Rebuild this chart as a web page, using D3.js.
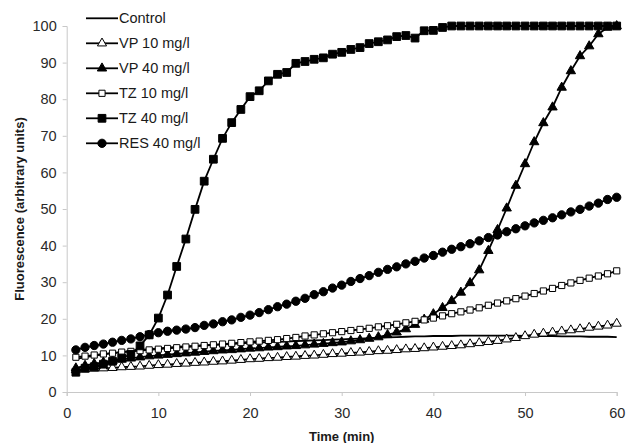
<!DOCTYPE html>
<html>
<head>
<meta charset="utf-8">
<script src="https://cdn.jsdelivr.net/npm/d3@7"></script>
<style>
  body { margin: 0; background: #fff; }
  svg { display: block; font-family: Arial, "Liberation Sans", sans-serif; }
</style>
</head>
<body>
<div class="chart"></div>
<script>
    // sampling times (min)
    var time = d3.range(1, 61);

    var xTicks = [0, 10, 20, 30, 40, 50, 60];
    var yTicks = [0, 10, 20, 30, 40, 50, 60, 70, 80, 90, 100];

    var seriesNames = ["Control", "VP 10 mg/l", "VP 40 mg/l", "TZ 10 mg/l", "TZ 40 mg/l", "RES 40 mg/l"];

    var control = [9.0, 9.5, 9.9, 10.3, 10.6, 10.9, 11.2, 11.5, 11.7, 11.9,
                   12.1, 12.3, 12.5, 12.6, 12.8, 12.9, 13.0, 13.1, 13.3, 13.4,
                   13.5, 13.6, 13.7, 13.8, 13.9, 14.0, 14.1, 14.2, 14.3, 14.4,
                   14.5, 14.6, 14.7, 14.8, 14.9, 15.0, 15.1, 15.2, 15.2, 15.3,
                   15.3, 15.3, 15.4, 15.4, 15.4, 15.4, 15.4, 15.4, 15.4, 15.3,
                   15.3, 15.3, 15.3, 15.2, 15.2, 15.2, 15.1, 15.1, 15.1, 15.0];

    var vp10 = [6.0, 6.2, 6.4, 6.5, 6.6, 6.8, 6.9, 7.0, 7.2, 7.4,
                7.5, 7.7, 7.8, 8.0, 8.1, 8.3, 8.4, 8.6, 8.8, 9.0,
                9.1, 9.3, 9.4, 9.6, 9.7, 9.9, 10.0, 10.2, 10.4, 10.5,
                10.7, 10.8, 11.0, 11.2, 11.3, 11.5, 11.7, 11.8, 12.0, 12.2,
                12.4, 12.6, 12.8, 13.1, 13.4, 13.7, 14.0, 14.4, 14.8, 15.3,
                15.7, 16.0, 16.3, 16.6, 16.9, 17.2, 17.6, 17.9, 18.2, 18.7];

    var vp40 = [6.5, 7.2, 7.7, 8.1, 8.5, 8.9, 9.2, 9.5, 9.8, 10.0,
                10.2, 10.4, 10.6, 10.8, 11.0, 11.2, 11.4, 11.5, 11.7, 11.9,
                12.0, 12.2, 12.3, 12.5, 12.6, 12.8, 13.0, 13.2, 13.4, 13.6,
                13.9, 14.2, 14.6, 15.0, 15.6, 16.3, 17.2, 18.4, 19.8, 21.3,
                23.0, 24.9, 27.2, 29.8, 33.3, 38.6, 44.3, 50.2, 56.4, 62.3,
                68.3, 73.5, 77.8, 83.2, 87.7, 91.8, 94.5, 97.8, 99.6, 100];

    var tz10 = [9.5, 9.8, 10.1, 10.4, 10.6, 10.9, 11.1, 11.3, 11.5, 11.7,
                11.9, 12.1, 12.3, 12.5, 12.7, 12.9, 13.1, 13.3, 13.5, 13.7,
                13.9, 14.1, 14.3, 14.6, 14.9, 15.3, 15.6, 15.9, 16.2, 16.5,
                16.8, 17.1, 17.4, 17.8, 18.1, 18.5, 18.9, 19.3, 19.7, 20.2,
                20.8, 21.4, 21.9, 22.4, 23.0, 23.7, 24.3, 24.9, 25.5, 26.2,
                26.9, 27.6, 28.3, 29.1, 29.8, 30.5, 31.1, 31.7, 32.3, 33.1];

    var tz40 = [5.4, 6.5, 6.9, 7.6, 8.4, 9.3, 10.3, 12.6, 15.6, 20.2,
                26.5, 34.3, 41.8, 49.9, 57.6, 63.6, 69.3, 73.6, 77.2, 80.7,
                82.3, 85.0, 86.8, 87.3, 89.8, 90.3, 90.9, 91.3, 92.3, 92.8,
                93.6, 94.1, 95.2, 95.7, 96.2, 97.1, 97.4, 96.7, 98.7, 98.8,
                99.6, 100, 100, 100, 100, 100, 100, 100, 100, 100,
                100, 100, 100, 100, 100, 100, 100, 100, 100, 100];

    var res40 = [11.5, 12.2, 12.7, 13.1, 13.6, 14.1, 14.5, 15.1, 15.7, 16.2,
                 16.6, 16.9, 17.2, 17.6, 18.2, 18.6, 19.2, 19.7, 20.4, 21.0,
                 21.7, 22.5, 23.3, 24.0, 24.8, 25.6, 26.6, 27.4, 28.4, 29.2,
                 30.2, 31.0, 31.8, 32.7, 33.5, 34.2, 35.0, 35.7, 36.6, 37.3,
                 38.2, 39.0, 39.7, 40.5, 41.3, 42.2, 42.9, 43.8, 44.6, 45.4,
                 46.2, 46.9, 47.6, 48.4, 49.2, 49.9, 50.8, 51.6, 52.6, 53.2];

    var seriesValues = [control, vp10, vp40, tz10, tz40, res40];

    // marker style per series
    var markers = [
      null,
      {type: d3.symbolTriangle, size: 36, fill: "white"},
      {type: d3.symbolTriangle, size: 38, fill: "black"},
      {type: d3.symbolSquare, size: 38, fill: "white"},
      {type: d3.symbolSquare, size: 60, fill: "black"},
      {type: d3.symbolCircle, size: 54, fill: "black"}
    ];

    var svg = d3.select(".chart")
                .append("svg")
                .attr("width", 627)
                .attr("height", 443)
                .style("background-color", "white");

    var x = d3.scaleLinear().domain([0, 60]).range([66.7, 616.7]);
    var y = d3.scaleLinear().domain([0, 100]).range([392, 26]);

    // axes
    var xAxis = svg.append("g")
                   .attr("transform", "translate(0,392)")
                   .call(d3.axisBottom(x).tickValues(xTicks).tickSize(4).tickPadding(12));
    var yAxis = svg.append("g")
                   .attr("transform", "translate(66.7,0)")
                   .call(d3.axisLeft(y).tickValues(yTicks).tickSize(4).tickPadding(6));

    [xAxis, yAxis].forEach(function(ax) {
      ax.select(".domain").attr("stroke", "#c8c8c8").attr("stroke-width", 1);
      ax.selectAll(".tick line").attr("stroke", "#c8c8c8");
      ax.selectAll(".tick text")
        .style("font-size", "14.5px")
        .style("font-family", "Arial, 'Liberation Sans', sans-serif")
        .attr("fill", "#2a2a2a");
    });

    // axis titles
    svg.append("text")
       .attr("text-anchor", "middle")
       .attr("x", 341.7)
       .attr("y", 441)
       .text("Time (min)")
       .style("font-size", "13px")
       .style("font-weight", "bold")
       .style("fill", "#1a1a1a");

    svg.append("text")
       .attr("text-anchor", "middle")
       .attr("transform", "translate(24,209) rotate(-90)")
       .text("Fluorescence (arbitrary units)")
       .style("font-size", "13px")
       .style("font-weight", "bold")
       .style("fill", "#1a1a1a");

    var line = d3.line()
                 .x(function(d, i) { return x(time[i]); })
                 .y(function(d) { return y(d); });

    // lines first, markers after
    seriesValues.forEach(function(vals) {
      svg.append("path")
         .datum(vals)
         .attr("d", line)
         .attr("fill", "none")
         .attr("stroke", "black")
         .attr("stroke-width", 1.8);
    });

    seriesValues.forEach(function(vals, s) {
      var m = markers[s];
      if (!m) return;
      svg.append("g").selectAll("path")
         .data(vals)
         .enter().append("path")
         .attr("transform", function(d, i) { return "translate(" + x(time[i]) + "," + y(d) + ")"; })
         .attr("d", d3.symbol().type(m.type).size(m.size))
         .attr("fill", m.fill)
         .attr("stroke", "black")
         .attr("stroke-width", 1);
    });

    // legend
    var legend = svg.append("g");
    seriesNames.forEach(function(name, s) {
      var ly = 18.3 + s * 25;
      legend.append("line")
            .attr("x1", 86).attr("x2", 118)
            .attr("y1", ly).attr("y2", ly)
            .attr("stroke", "black")
            .attr("stroke-width", 1.8);
      var m = markers[s];
      if (m) {
        legend.append("path")
              .attr("transform", "translate(102," + ly + ")")
              .attr("d", d3.symbol().type(m.type).size(m.size))
              .attr("fill", m.fill)
              .attr("stroke", "black")
              .attr("stroke-width", 1);
      }
      legend.append("text")
            .attr("x", 119)
            .attr("y", ly + 5)
            .text(name)
            .style("font-size", "14.5px")
            .style("fill", "#1a1a1a");
    });
</script>
</body>
</html>
